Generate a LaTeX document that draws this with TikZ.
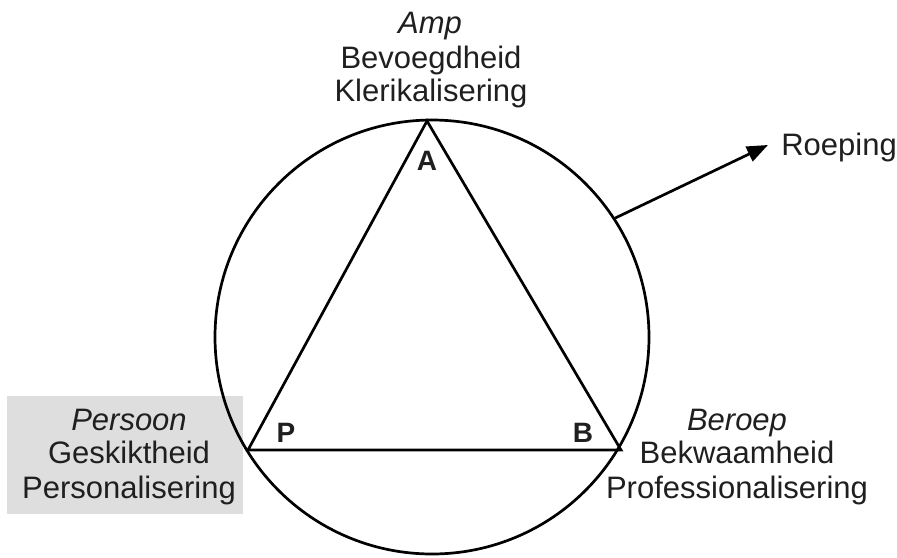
\documentclass[tikz,border=0pt]{standalone}
\usepackage{fontspec}
\setmainfont{Liberation Sans}
\usetikzlibrary{arrows.meta}
\begin{document}
\begin{tikzpicture}[x=1pt,y=-1pt,line width=2.7pt,
  txt/.style={font=\fontsize{31}{34}\selectfont,inner sep=0pt,anchor=base,text=black!88},
  ttl/.style={txt,font=\fontsize{31}{34}\selectfont\itshape},
  vlbl/.style={font=\fontsize{28}{30}\selectfont\bfseries,inner sep=0pt,anchor=base,text=black!88},
  graybox/.style={fill=black!13,draw=none}]
\useasboundingbox (0,0) rectangle (897,557);
% gray box behind Persoon
\path[graybox] (7,396) rectangle (243,514);
% circle
\node[circle,draw,minimum size=434pt,inner sep=0pt] (c) at (432,337) {};
% triangle
\coordinate (A) at (427,121);
\coordinate (P) at (248,450);
\coordinate (B) at (621,450);
\draw[line join=miter] (A) -- (B) -- (P) -- cycle;
% vertex labels
\node[vlbl] (la) at (427,170) {A};
\node[vlbl] (lp) at (286,442) {P};
\node[vlbl] (lb) at (583,442) {B};
% top text
\node[ttl] (amp) at (430,33) {Amp};
\node[txt] (bev) at (431,68) {Bevoegdheid};
\node[txt] (kler) at (431,101) {Klerikalisering};
% left text
\node[ttl] (pers) at (129,430) {Persoon};
\node[txt] (gesk) at (129,463) {Geskiktheid};
\node[txt] (persl) at (129,498) {Personalisering};
% right text
\node[ttl] (ber) at (737,430) {Beroep};
\node[txt] (bekw) at (737,463) {Bekwaamheid};
\node[txt] (prof) at (737,498) {Professionalisering};
% Roeping arrow
\node[txt,anchor=base west] (roep) at (780,155) {Roeping};
\coordinate (tip) at (768,145);
\draw[-{Triangle[length=21pt,width=16pt]}] (c.33) -- (tip);
\end{tikzpicture}
\end{document}
